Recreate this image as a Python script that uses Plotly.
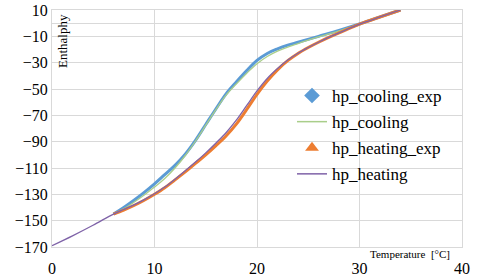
import plotly.graph_objects as go

# Temperature [°C] sample points
temp_cool = [6, 7, 8, 9, 10, 11, 12, 13, 14, 15, 16, 17, 18, 19, 20, 21, 22, 23, 24, 26, 28, 30, 32, 34]
cooling_exp = [-145, -140, -134.5, -128.5, -122, -115, -108, -99.5, -89, -77, -65, -53.5, -44.5, -36, -28.3, -23, -19.5, -16.7, -14.5, -10, -5.5, -0.6, 4.8, 10]
cooling_sim = [-145, -141, -136, -130.5, -124.5, -118, -110, -100.5, -89.5, -77.5, -65.5, -54.5, -46, -38, -30.8, -25.3, -21.3, -18.2, -15.5, -10.5, -5.8, -0.6, 4.8, 10]

temp_heat = [6, 7, 8, 9, 10, 11, 12, 13, 14, 15, 16, 17, 18, 19, 20, 21, 22, 23, 24, 25, 26, 27, 28, 30, 32, 34]
heating_exp = [-145, -142, -138.5, -134.5, -130, -125, -119, -113, -106.5, -100, -93, -85.5, -76.5, -65.5, -54, -44, -35.5, -28.5, -23, -18.5, -14.5, -10.8, -7.4, -0.8, 4.7, 10]
temp_heat_sim = [0, 2, 4, 6, 7, 8, 9, 10, 11, 12, 13, 14, 15, 16, 17, 18, 19, 20, 21, 22, 23, 24, 25, 26, 27, 28, 30, 32, 34]
heating_sim = [-169, -161.5, -153.5, -145, -141.5, -138, -134, -129.5, -124.5, -118.5, -112, -105.5, -98.5, -91, -83, -73.5, -62.5, -51.5, -42, -34.5, -28, -22.8, -18.5, -14.5, -10.8, -7.4, -0.8, 4.7, 10]

x_ticks = [0, 10, 20, 30, 40]
y_ticks = [-170, -150, -130, -110, -90, -70, -50, -30, -10, 10]

names = ["hp_cooling_exp", "hp_cooling", "hp_heating_exp", "hp_heating"]
c_blue, c_green, c_orange, c_purple = "#5B9BD5", "#A9CE8A", "#ED7D31", "#7F63A8"

FONT = "Liberation Serif"
fig = go.Figure()

# plotted curves
fig.add_trace(go.Scatter(x=temp_cool, y=cooling_exp, mode="lines", line=dict(color=c_blue, width=3.0, shape="spline"), showlegend=False))
fig.add_trace(go.Scatter(x=temp_cool, y=cooling_sim, mode="lines", line=dict(color=c_green, width=1.3, shape="spline"), showlegend=False))
fig.add_trace(go.Scatter(x=temp_heat, y=heating_exp, mode="lines", line=dict(color=c_orange, width=3.0, shape="spline"), showlegend=False))
fig.add_trace(go.Scatter(x=temp_heat_sim, y=heating_sim, mode="lines", line=dict(color=c_purple, width=1.3, shape="spline"), showlegend=False))

# legend entries
fig.add_trace(go.Scatter(x=[None], y=[None], mode="markers", name=names[0], legendgroup="a",
                         marker=dict(symbol="diamond", size=12, color=c_blue)))
fig.add_trace(go.Scatter(x=[None], y=[None], mode="lines", name=names[1], legendgroup="b",
                         line=dict(color=c_green, width=1.5)))
fig.add_trace(go.Scatter(x=[None], y=[None], mode="markers", name=names[2], legendgroup="c",
                         marker=dict(symbol="triangle-up", size=12, color=c_orange)))
fig.add_trace(go.Scatter(x=[None], y=[None], mode="lines", name=names[3], legendgroup="d",
                         line=dict(color=c_purple, width=1.5)))

L, R, T, B = 52, 462, 10, 247
W, H = 480, 278

def px_x(p):
    return (p - L) / (R - L)

def px_y(p):
    return (B - p) / (B - T)

grid = "#D9D9D9"
fig.update_layout(
    width=W, height=H,
    margin=dict(l=L, r=W - R, t=T, b=H - B, autoexpand=False),
    paper_bgcolor="white", plot_bgcolor="white",
    font=dict(family=FONT, size=16, color="#000000"),
    showlegend=True,
    legend=dict(x=px_x(292), y=px_y(78), xanchor="left", yanchor="top", bgcolor="rgba(0,0,0,0)",
                tracegroupgap=1, font=dict(family=FONT, size=17, color="#000000")),
    xaxis=dict(range=[0, 40], tickvals=x_ticks, showgrid=True, gridcolor=grid, gridwidth=1,
               zeroline=True, zerolinecolor=grid, zerolinewidth=1, automargin=False,
               showline=True, mirror=True, linecolor=grid, linewidth=1, ticks="",
               ticklabelstandoff=7,
               tickfont=dict(family=FONT, size=16, color="#000000")),
    yaxis=dict(range=[-170, 10], tickvals=y_ticks, showgrid=True, gridcolor=grid, gridwidth=1,
               zeroline=True, zerolinecolor=grid, zerolinewidth=1, automargin=False,
               showline=True, mirror=True, linecolor=grid, linewidth=1, ticks="",
               tickfont=dict(family=FONT, size=16, color="#000000")),
    annotations=[
        dict(text="Enthalphy", x=px_x(63), y=px_y(41), xref="paper", yref="paper", showarrow=False,
             xanchor="center", yanchor="middle",
             textangle=-90, font=dict(family=FONT, size=13, color="#000000")),
        dict(text="Temperature  [°C]", x=px_x(452), y=px_y(254), xref="paper", yref="paper", showarrow=False,
             xanchor="right", yanchor="middle", font=dict(family=FONT, size=11, color="#000000")),
    ],
)

fig.write_html("out.html", post_script="document.body.style.margin='0';",
               config={"displayModeBar": False})
